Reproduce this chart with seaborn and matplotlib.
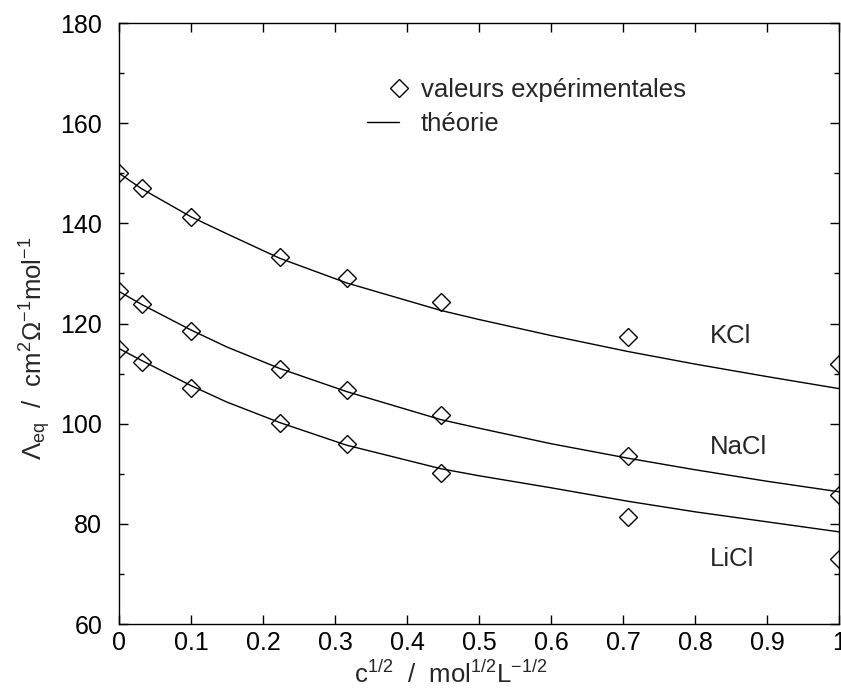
import numpy as np
import pandas as pd
import matplotlib

matplotlib.use("Agg")
import matplotlib.pyplot as plt
import seaborn as sns
from matplotlib.lines import Line2D
from matplotlib.legend_handler import HandlerLine2D
from matplotlib.ticker import MultipleLocator

# ---- data ----
x_exp = [0.0, 0.0316, 0.1, 0.2236, 0.3162, 0.4472, 0.7071, 1.0]
kcl_exp = [150.0, 147.0, 141.3, 133.3, 129.0, 124.2, 117.3, 111.9]
nacl_exp = [126.4, 123.8, 118.5, 111.0, 106.7, 101.8, 93.6, 85.7]
licl_exp = [115.0, 112.3, 107.2, 100.1, 95.9, 90.2, 81.4, 72.9]

x_th = [0.0, 0.0316, 0.1, 0.15, 0.2236, 0.3162, 0.4472, 0.5, 0.6, 0.7071, 0.8, 0.9, 1.0]
kcl_th = [150.0, 146.9, 141.3, 137.9, 133.0, 128.1, 122.6, 120.8, 117.6, 114.4, 111.9, 109.4, 107.0]
nacl_th = [126.4, 123.8, 118.7, 115.3, 111.0, 106.4, 100.8, 99.1, 96.0, 93.1, 90.8, 88.5, 86.4]
licl_th = [115.0, 112.6, 107.6, 104.3, 100.2, 95.7, 91.0, 89.6, 87.2, 84.5, 82.4, 80.4, 78.4]

salts = ["KCl", "NaCl", "LiCl"]
label_pos = {"KCl": (0.821, 117.6), "NaCl": (0.821, 95.4), "LiCl": (0.821, 73.0)}

exp = pd.DataFrame({
    "x": x_exp * 3,
    "y": kcl_exp + nacl_exp + licl_exp,
    "salt": np.repeat(salts, len(x_exp)),
})
th = pd.DataFrame({
    "x": x_th * 3,
    "y": kcl_th + nacl_th + licl_th,
    "salt": np.repeat(salts, len(x_th)),
})

sns.set_style("ticks")
plt.rcParams.update({
    "font.family": ["Liberation Sans", "DejaVu Sans"],
    "font.size": 18.5,
    "mathtext.fontset": "custom",
    "mathtext.rm": "Liberation Sans",
    "mathtext.it": "Liberation Sans:italic",
    "mathtext.sf": "Liberation Sans",
    "axes.linewidth": 1.0,
    "axes.edgecolor": "black",
})


class MarkerRight(HandlerLine2D):
    # put the single marker at the right end of the handle, like the original
    def get_xdata(self, legend, xdescent, ydescent, width, height, fontsize):
        x1 = -xdescent + width
        return [x1 - 0.01, x1], [x1]


fig = plt.figure(figsize=(8.41, 6.90), dpi=100)
ax = fig.add_axes([119 / 841, 1 - 624 / 690, 720 / 841, 601 / 690])

for s in salts:
    d = th[th.salt == s]
    sns.lineplot(x=d.x.values, y=d.y.values, ax=ax, color="black", linewidth=1.0,
                 sort=False, estimator=None)
    e = exp[exp.salt == s]
    sns.lineplot(x=e.x.values, y=e.y.values, ax=ax, color="black", linestyle="",
                 marker="D", markersize=9, markerfacecolor="none",
                 markeredgecolor="black", markeredgewidth=1.0,
                 sort=False, estimator=None)
    ax.text(label_pos[s][0], label_pos[s][1], s, fontsize=18.5, ha="left", va="center")

ax.set_xlim(0, 1)
ax.set_ylim(60, 180)
ax.yaxis.set_major_locator(MultipleLocator(20))
ax.yaxis.set_minor_locator(MultipleLocator(10))
ax.set_xticks(np.arange(0, 1.01, 0.1))
ax.set_xticklabels(["0", "0.1", "0.2", "0.3", "0.4", "0.5", "0.6", "0.7", "0.8", "0.9", "1"])
ax.tick_params(which="both", direction="in", top=True, right=True, width=1.0, colors="black")
ax.tick_params(which="major", length=6.5, labelsize=18)
ax.tick_params(axis="y", which="major", pad=12)
ax.tick_params(axis="x", which="major", pad=5)
ax.tick_params(which="minor", length=3.5)
for sp in ax.spines.values():
    sp.set_visible(True)
    sp.set_color("black")

ax.set_xlabel(r"c$^{1/2}$  /  mol$^{1/2}$L$^{-1/2}$", fontsize=18.5)
ax.set_ylabel(r"$\mathit{\Lambda}_{\rm eq}$  /  cm$^{2}\Omega^{-1}$mol$^{-1}$", fontsize=18.5)
ax.xaxis.set_label_coords(0.46, -0.061)
ax.yaxis.set_label_coords(-0.092, 0.459)

h_exp = Line2D([], [], linestyle="", marker="D", markersize=9, markerfacecolor="none",
               markeredgecolor="black", markeredgewidth=1.0)
h_th = Line2D([], [], color="black", linewidth=1.0)
ax.legend([h_exp, h_th], ["valeurs expérimentales", "théorie"],
          handler_map={h_exp: MarkerRight()},
          loc="upper left", bbox_to_anchor=(248 / 720, (624 - 78) / 601),
          frameon=False, fontsize=18.5, handlelength=1.25, handletextpad=0.85,
          labelspacing=0.38, borderpad=0, borderaxespad=0)

fig.savefig("out.png", dpi=100)
